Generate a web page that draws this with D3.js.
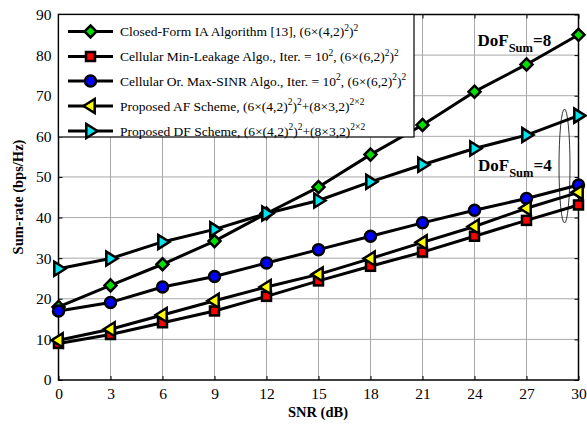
<!DOCTYPE html>
<html><head><meta charset="utf-8">
<script src="https://cdn.jsdelivr.net/npm/d3@7"></script>
<style>
body{margin:0;background:#fff;}
svg{display:block;}
svg text{font-family:"Liberation Serif","Times New Roman",serif !important;}
</style></head>
<body><svg id="c" width="587" height="426"></svg>
<script>
const snr = [0,3,6,9,12,15,18,21,24,27,30];
const xTicks = [0,3,6,9,12,15,18,21,24,27,30];
const yTicks = [0,10,20,30,40,50,60,70,80,90];
const closedForm = [18,23.3,28.5,34.2,41,47.5,55.5,62.8,71,77.7,85];
const minLeakage = [9,11.2,14.1,17,20.6,24.4,28,31.5,35.4,39.3,43.1];
const maxSINR = [17,19.1,22.9,25.5,28.8,32.1,35.4,38.7,41.8,44.7,48];
const afScheme = [9.8,12.5,16,19.5,22.9,26,29.9,33.9,37.8,42.3,46.2];
const dfScheme = [27.4,29.9,34,37.1,41,44.2,48.8,53,57,60.3,65.1];
const legendLabels = [
  ["Closed-Form IA Algorithm [13], (6×(4,2)", "2", ")", "2"],
  ["Cellular Min-Leakage Algo., Iter. = 10", "2", ", (6×(6,2)", "2", ")", "2"],
  ["Cellular Or. Max-SINR Algo., Iter. = 10", "2", ", (6×(6,2)", "2", ")", "2"],
  ["Proposed AF Scheme, (6×(4,2)", "2", ")", "2", "+(8×3,2)", "2×2"],
  ["Proposed DF Scheme, (6×(4,2)", "2", ")", "2", "+(8×3,2)", "2×2"]
];

const series = [
  {v: closedForm, m: "diamond", fill: "#00e000"},
  {v: minLeakage, m: "square", fill: "#ff0000"},
  {v: maxSINR, m: "circle", fill: "#0000ff"},
  {v: afScheme, m: "left", fill: "#ffff00"},
  {v: dfScheme, m: "right", fill: "#00e5ee"}
];

const svg = d3.select("#c");
const L = 58.5, R = 578.5, T = 14.5, B = 380;
const x = d3.scaleLinear().domain([0,30]).range([L,R]);
const y = d3.scaleLinear().domain([0,90]).range([B,T]);

// grid
svg.append("g").selectAll("line").data(xTicks.slice(1,-1)).join("line")
  .attr("x1",d=>x(d)).attr("x2",d=>x(d)).attr("y1",T).attr("y2",B)
  .attr("stroke","#a8a8a8").attr("stroke-width",1);
svg.append("g").selectAll("line").data(yTicks.slice(1,-1)).join("line")
  .attr("y1",d=>y(d)).attr("y2",d=>y(d)).attr("x1",L).attr("x2",R)
  .attr("stroke","#a8a8a8").attr("stroke-width",1);

// axes
svg.append("g").attr("transform",`translate(0,${B})`)
  .call(d3.axisBottom(x).tickValues(xTicks).tickSize(-4).tickPadding(8));
svg.append("g").attr("transform",`translate(${L},0)`)
  .call(d3.axisLeft(y).tickValues(yTicks).tickSize(-4).tickPadding(7));
svg.append("g").attr("transform",`translate(0,${T})`)
  .call(d3.axisTop(x).tickValues(xTicks).tickSize(-4).tickFormat(""));
svg.append("g").attr("transform",`translate(${R},0)`)
  .call(d3.axisRight(y).tickValues(yTicks).tickSize(-4).tickFormat(""));
svg.selectAll(".domain").remove();
svg.selectAll("g").attr("font-family",null).attr("font-size",null);
svg.selectAll(".tick line").attr("stroke","#000").attr("stroke-width",1);
svg.selectAll(".tick text").attr("font-size",15.5).attr("fill","#000");
svg.append("rect").attr("x",L).attr("y",T).attr("width",R-L).attr("height",B-T)
  .attr("fill","none").attr("stroke","#000").attr("stroke-width",1.5);

// markers
function marker(g, type, cx, cy, fill){
  const s = 2.5;
  if(type==="circle"){
    g.append("circle").attr("cx",cx).attr("cy",cy).attr("r",5.5)
      .attr("fill",fill).attr("stroke","#000").attr("stroke-width",s);
  } else if(type==="square"){
    g.append("rect").attr("x",cx-4.5).attr("y",cy-4.5).attr("width",9).attr("height",9)
      .attr("fill",fill).attr("stroke","#000").attr("stroke-width",s);
  } else if(type==="diamond"){
    const r=6;
    g.append("path").attr("d",`M${cx},${cy-r}L${cx+r},${cy}L${cx},${cy+r}L${cx-r},${cy}Z`)
      .attr("fill",fill).attr("stroke","#000").attr("stroke-width",s);
  } else if(type==="left"){
    const r=7;
    g.append("path").attr("d",`M${cx-r},${cy}L${cx+r*0.6},${cy-r}L${cx+r*0.6},${cy+r}Z`)
      .attr("fill",fill).attr("stroke","#000").attr("stroke-width",s);
  } else if(type==="right"){
    const r=7;
    g.append("path").attr("d",`M${cx+r},${cy}L${cx-r*0.6},${cy-r}L${cx-r*0.6},${cy+r}Z`)
      .attr("fill",fill).attr("stroke","#000").attr("stroke-width",s);
  }
}

const line = d3.line().x((d,i)=>x(snr[i])).y(d=>y(d));
const plot = svg.append("g");
series.forEach(s=>{
  const g = plot.append("g");
  g.append("path").datum(s.v).attr("d",line).attr("fill","none")
    .attr("stroke","#000").attr("stroke-width",3).attr("stroke-linejoin","round");
  s.v.forEach((v,i)=>marker(g, s.m, x(snr[i]), y(v), s.fill));
});

// ellipse annotation
svg.append("ellipse").attr("cx",564.5).attr("cy",166).attr("rx",5.5).attr("ry",57)
  .attr("fill","none").attr("stroke","#000").attr("stroke-width",0.8);

// DoF annotations
function dof(tx, ty, val){
  const t = svg.append("text").attr("x",tx).attr("y",ty).attr("font-weight","bold")
    .attr("font-size",17).attr("fill","#000");
  t.append("tspan").text("DoF");
  t.append("tspan").attr("dy",6).attr("font-size",12.5).text("Sum");
  t.append("tspan").attr("dy",-6).text("="+val);
}
dof(477.5, 46, "8");
dof(478, 171, "4");

// legend
const lg = svg.append("g");
lg.append("rect").attr("x",58.5).attr("y",14.5).attr("width",355.5).attr("height",122.5)
  .attr("fill","#fff").attr("stroke","#000").attr("stroke-width",1.2);
const rowY = [31.5,56.5,81,106,131];
series.forEach((s,i)=>{
  const yy = rowY[i];
  lg.append("line").attr("x1",68).attr("x2",113).attr("y1",yy).attr("y2",yy)
    .attr("stroke","#000").attr("stroke-width",3);
  marker(lg, s.m, 90.5, yy, s.fill);
  const t = lg.append("text").attr("x",120).attr("y",yy+4.5).attr("font-size",13.5).attr("fill","#000");
  const parts = legendLabels[i];
  let sup = false;
  parts.forEach((p,k)=>{
    const isSup = k%2===1;
    const ts = t.append("tspan").text(p);
    if(isSup && !sup){ ts.attr("dy",-5.5).attr("font-size",9.5); sup=true; }
    else if(!isSup && sup){ ts.attr("dy",5.5); sup=false; }
    else if(isSup){ ts.attr("font-size",9.5); }
  });
});

// axis labels
svg.append("text").attr("x",318).attr("y",417).attr("text-anchor","middle")
  .attr("font-weight","bold").attr("font-size",14.5).text("SNR (dB)");
svg.append("text").attr("transform","translate(23,197) rotate(-90)").attr("text-anchor","middle")
  .attr("font-weight","bold").attr("font-size",14.5).text("Sum-rate (bps/Hz)");
</script></body></html>
